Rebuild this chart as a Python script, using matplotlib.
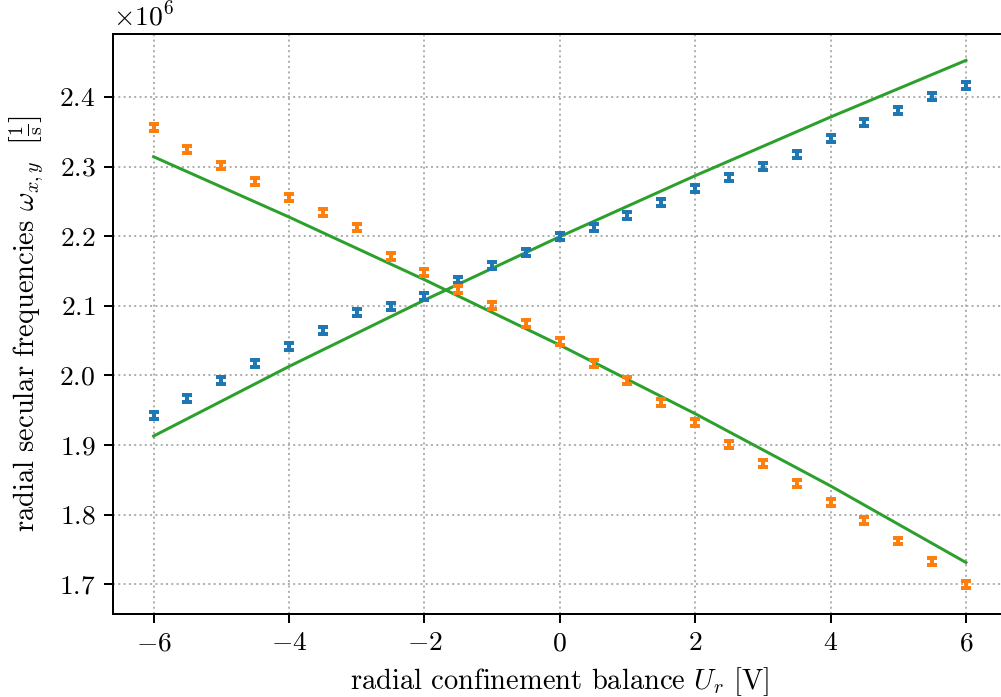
import numpy as np
import matplotlib
matplotlib.use("Agg")
import matplotlib.pyplot as plt

plt.rcParams['font.family'] = 'serif'
plt.rcParams['font.serif'] = ['cmr10']
plt.rcParams['mathtext.fontset'] = 'cm'
plt.rcParams['axes.formatter.use_mathtext'] = True
plt.rcParams['font.size'] = 11
plt.rcParams['axes.unicode_minus'] = True

# Data (frequencies in units of 1e6 1/s)
voltage = [-6.0, -5.5, -5.0, -4.5, -4.0, -3.5, -3.0, -2.5, -2.0, -1.5, -1.0, -0.5,
           0.0, 0.5, 1.0, 1.5, 2.0, 2.5, 3.0, 3.5, 4.0, 4.5, 5.0, 5.5, 6.0]
omega_x = [1.942, 1.967, 1.992, 2.017, 2.042, 2.064, 2.090, 2.099, 2.114, 2.137, 2.158, 2.177,
           2.200, 2.212, 2.230, 2.249, 2.268, 2.284, 2.300, 2.318, 2.341, 2.363, 2.381, 2.400, 2.416]
omega_y = [2.356, 2.325, 2.302, 2.278, 2.256, 2.234, 2.212, 2.171, 2.148, 2.124, 2.100, 2.075,
           2.048, 2.017, 1.992, 1.961, 1.932, 1.901, 1.873, 1.845, 1.817, 1.791, 1.762, 1.732, 1.700]
omega_err = 0.005
# model curves
fit_voltage = [-6.0, -4.0, -2.0, 0.0, 2.0, 4.0, 6.0]
fit_x = [1.9128, 2.0128, 2.1081, 2.1993, 2.2869, 2.3712, 2.4526]
fit_y = [2.3141, 2.2275, 2.1375, 2.0435, 1.9449, 1.8411, 1.7311]

scale = 1e6

fig = plt.figure(figsize=(1001/180, 697/180), dpi=180)
W, H = 1001, 697
x0, x1 = 113, 1006.6
y0, y1 = 34, 614
ax = fig.add_axes([x0/W, (H-y1)/H, (x1-x0)/W, (y1-y0)/H])

ax.errorbar(voltage, np.array(omega_x)*scale, yerr=omega_err*scale, fmt='none',
            ecolor='C0', capsize=2, capthick=1.6, elinewidth=1.6, zorder=3)
ax.errorbar(voltage, np.array(omega_y)*scale, yerr=omega_err*scale, fmt='none',
            ecolor='C1', capsize=2, capthick=1.6, elinewidth=1.6, zorder=3)
ax.plot(fit_voltage, np.array(fit_x)*scale, color='C2', lw=1.2)
ax.plot(fit_voltage, np.array(fit_y)*scale, color='C2', lw=1.2)

ax.set_xlim(-6.6, 6.6)
ax.grid(True, linestyle=':', color='#b0b0b0', lw=0.8)
ax.set_xlabel(r'radial confinement balance $U_r$ [V]', fontsize=11.4)
ax.set_ylabel(r'radial secular frequencies $\omega_{x,y}$ $\;\left[\frac{1}{\mathrm{s}}\right]$',
              fontsize=11.4, labelpad=5)

fig.savefig('out.png', dpi=180)
